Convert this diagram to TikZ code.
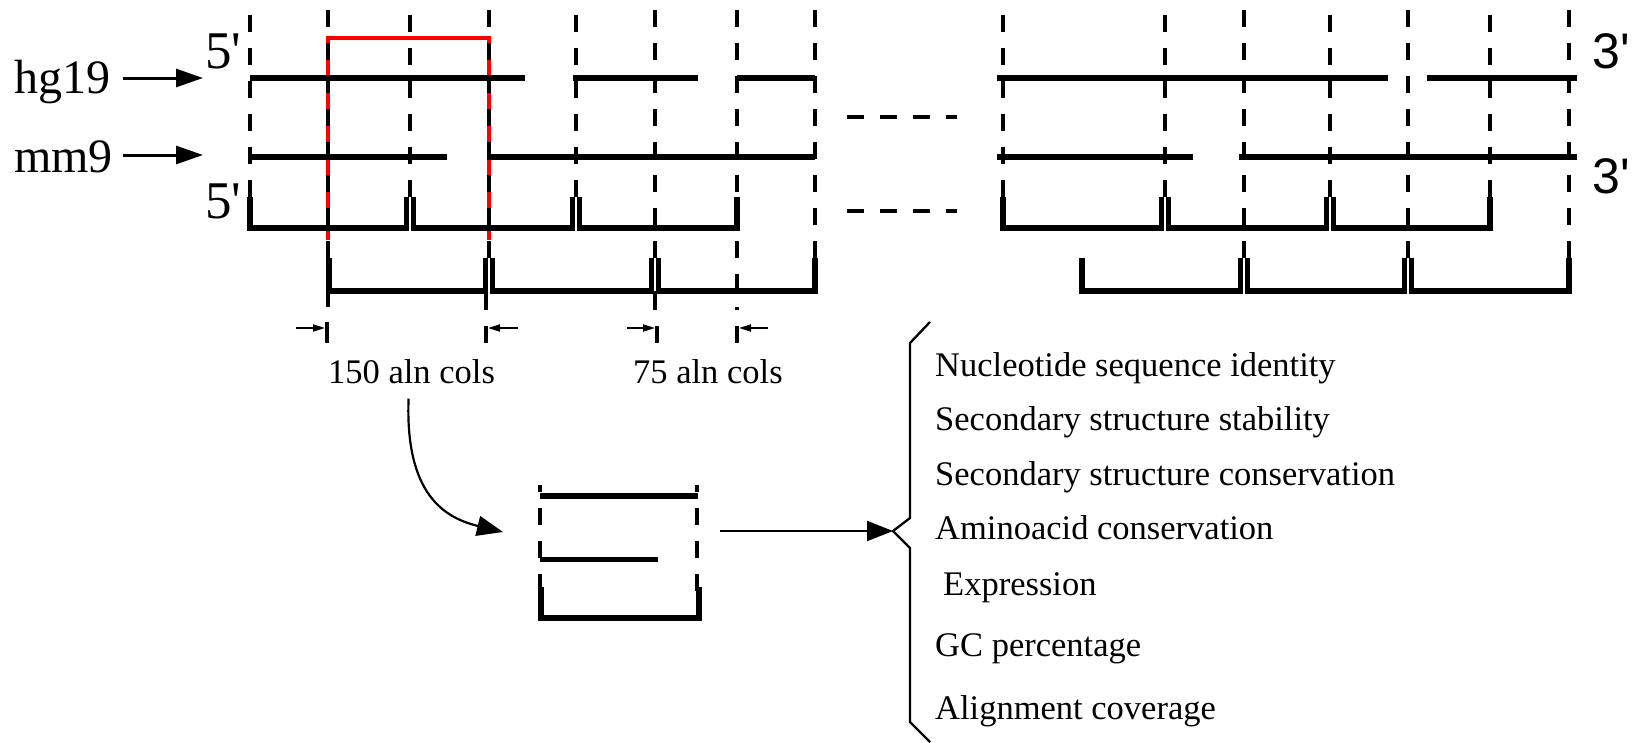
\documentclass[tikz,border=0pt]{standalone}
\usepackage{fontspec}
\setmainfont{Liberation Serif}
\newfontfamily\sansprime{Liberation Sans}
\usetikzlibrary{arrows.meta}
\begin{document}
\begin{tikzpicture}[x=1pt,y=-1pt,
  guide/.style={line width=3.2pt, dash pattern=on 17pt off 16pt},
  extension/.style={line width=3.2pt},
  seqline/.style={line width=5.5pt},
  window/.style={line width=5.5pt, line join=miter},
  ellipsis/.style={line width=3.2pt, dash pattern=on 17pt off 16pt},
  redwin/.style={line width=3.6pt, red, line join=miter},
  species/.style={inner sep=0pt, anchor=base west, font=\fontsize{48pt}{56pt}\selectfont},
  fiveend/.style={inner sep=0pt, anchor=base west, font=\fontsize{53pt}{60pt}\selectfont},
  threeend/.style={inner sep=0pt, anchor=base west, font=\sansprime\fontsize{50pt}{58pt}\selectfont},
  colnote/.style={inner sep=0pt, anchor=base west, font=\fontsize{34.5pt}{40pt}\selectfont},
  feature/.style={inner sep=0pt, anchor=base west, font=\fontsize{34.5pt}{40pt}\selectfont},
  pointer/.style={line width=3pt, -{Triangle[length=27pt,width=18pt]}},
  flow/.style={line width=2.2pt, -{Triangle[length=26pt,width=20pt]}},
  dimarrow/.style={line width=2pt, -{Triangle[length=12pt,width=7pt]}},
  dimtick/.style={line width=4pt},
  bracelike/.style={line width=2.3pt, line join=miter},
]
\fill[white] (0,0) rectangle (1636,742);
\useasboundingbox (0,0) rectangle (1636,742);

% highlighted 150-column window
\draw[redwin] (328,240) -- (328,38) -- (489,38) -- (489,240);

% column guides every 75 alignment columns
\foreach \x/\t/\b in {250/15/197, 328/10/258, 410/15/197, 489/10/258,
                      576/15/197, 655/10/258, 737/10/310, 815/10/258,
                      1003/15/197, 1165/15/197, 1244/10/258, 1330/15/197,
                      1408/10/258, 1490/15/197, 1569/10/258}
  \draw[guide] (\x,\t) -- (\x,\b);
\draw[extension] (328,291) -- (328,307);
\draw[extension] (486,291) -- (486,310);
\draw[extension] (655,291) -- (655,310);

% aligned sequences
\foreach \a/\b in {250/525, 573/698, 737/815, 997/1388, 1427/1577}
  \draw[seqline] (\a,78) -- (\b,78);
\foreach \a/\b in {250/447, 487/815, 997/1193, 1239/1577}
  \draw[seqline] (\a,157) -- (\b,157);

% sliding windows
\foreach \a/\b in {250/406.5, 413.5/572.5, 579.5/737,
                   1003/1161.5, 1168.5/1326.5, 1333.5/1490}
  \draw[window] (\a,197) -- (\a,228) -- (\b,228) -- (\b,197);
\foreach \a/\b in {329/485.5, 492.5/651.5, 658.5/815,
                   1082/1240.5, 1247.5/1404.5, 1411.5/1569}
  \draw[window] (\a,258) -- (\a,291) -- (\b,291) -- (\b,258);

% gap in the middle of the alignment
\draw[ellipsis] (847,117) -- (957,117);
\draw[ellipsis] (847,211) -- (957,211);

% species and strand ends
\node[species] (hg) at (14,93) {hg19};
\node[species] (mm) at (14,172) {mm9};
\coordinate (hgtip) at (203,78);
\coordinate (mmtip) at (203,155);
\draw[pointer, shorten <=13pt] (hg.east |- hgtip) -- (hgtip);
\draw[pointer, shorten <=10pt] (mm.east |- mmtip) -- (mmtip);
\node[fiveend] (fiveA) at (205,68) {5\textquotesingle};
\node[fiveend] (fiveB) at (205,218) {5\textquotesingle};
\node[threeend] (threeA) at (1592,68) {3\textquotesingle};
\node[threeend] (threeB) at (1592,193) {3\textquotesingle};

% window length and step
\coordinate (wl) at (325,328);
\coordinate (wr) at (488,328);
\coordinate (sl) at (655,328);
\coordinate (sr) at (739,328);
\draw[dimtick] (327,322) -- (327,343);
\draw[dimtick] (486,326) -- (486,343);
\draw[dimtick] (657,326) -- (657,343);
\draw[dimtick] (737,326) -- (737,343);
\draw[dimarrow] ([xshift=-29pt]wl) -- (wl);
\draw[dimarrow] ([xshift=30pt]wr) -- (wr);
\draw[dimarrow] ([xshift=-28pt]sl) -- (sl);
\draw[dimarrow] ([xshift=29pt]sr) -- (sr);
\node[colnote] (cols150) at (328,383) {150 aln cols};
\node[colnote] (cols75) at (633,383) {75 aln cols};

% single window
\draw[guide, dash phase=10pt] (540,485) -- (540,591);
\draw[guide, dash phase=10pt] (697,485) -- (697,591);
\draw[line width=6pt] (540,496) -- (698,496);
\draw[line width=5pt] (540,559) -- (658,559);
\draw[window, line width=6pt] (541,587) -- (541,618) -- (699,618) -- (699,587);
\coordinate (iconW) at (503,532);
\coordinate (iconE) at (720,531);
\draw[flow] ([xshift=-3pt]cols150.south) ++(0,15) .. controls (405,495) and (445,518) .. (iconW);

% features computed per window
\coordinate (bracetip) at (893,531);
\draw[flow] (iconE) -- (bracetip);
\draw[bracelike] (930,322) -- (910,343) -- (910,518) -- (bracetip) -- (910,548) -- (910,722) -- (930,742);
\node[feature] (f1) at (935,376) {Nucleotide sequence identity};
\node[feature] (f2) at (935,430) {Secondary structure stability};
\node[feature] (f3) at (935,485) {Secondary structure conservation};
\node[feature] (f4) at (935,539) {Aminoacid conservation};
\node[feature] (f5) at (943,595) {Expression};
\node[feature] (f6) at (935,656) {GC percentage};
\node[feature] (f7) at (935,719) {Alignment coverage};
\end{tikzpicture}
\end{document}
